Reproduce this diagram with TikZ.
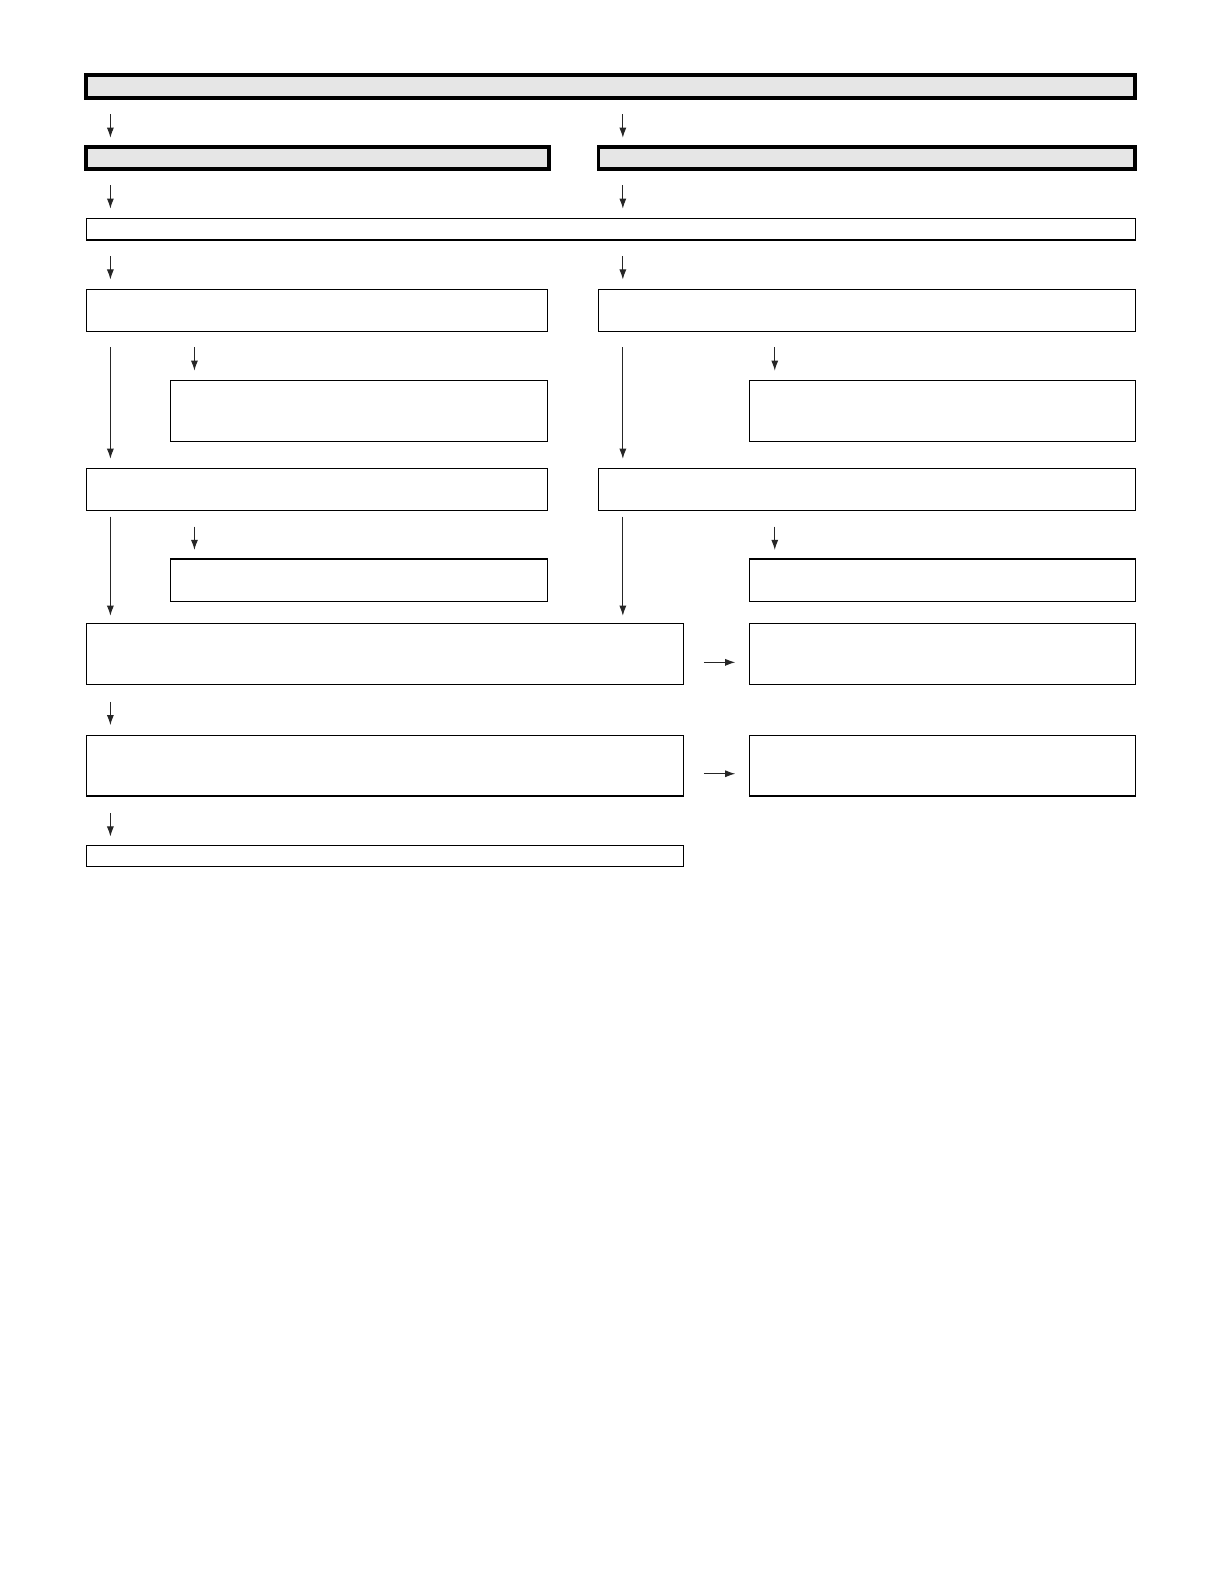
\documentclass[tikz,border=0pt]{standalone}
\usetikzlibrary{arrows.meta}
\begin{document}
\begin{tikzpicture}[x=1pt,y=-1pt,
  thinbox/.style={draw=black,line width=1.1pt,inner sep=0pt,outer sep=0pt,fill=white},
  thickbox/.style={draw=black,line width=3.8pt,inner sep=0pt,outer sep=0pt,fill=boxgrey},
  arr/.style={draw=black!85,line width=1pt,-{Latex[length=10pt,width=7pt]}}]
\definecolor{boxgrey}{HTML}{E6E6E6}
\useasboundingbox (0,0) rectangle (1204.6,1568);
\fill[white] (0,0) rectangle (1204.6,1568);
\node[thickbox,minimum width=1036pt,minimum height=23pt] (top) at (603,85.5) {};
\node[thickbox,minimum width=457pt,minimum height=22pt] (l1) at (313.5,156) {};
\node[thickbox,minimum width=530pt,minimum height=22pt] (r1) at (856,156) {};
\node[thinbox,minimum width=1036pt,minimum height=21pt] (wide) at (603,226.5) {};
\node[thinbox,minimum width=456pt,minimum height=41pt] (l2) at (313,306.5) {};
\node[thinbox,minimum width=530pt,minimum height=41pt] (r2) at (856,306.5) {};
\node[thinbox,minimum width=373pt,minimum height=60pt] (l2s) at (354.5,406) {};
\node[thinbox,minimum width=381pt,minimum height=60pt] (r2s) at (930.5,406) {};
\node[thinbox,minimum width=456pt,minimum height=41pt] (l3) at (313,483.5) {};
\node[thinbox,minimum width=530pt,minimum height=41pt] (r3) at (856,483.5) {};
\node[thinbox,minimum width=373pt,minimum height=42pt] (l3s) at (354.5,573) {};
\node[thinbox,minimum width=381pt,minimum height=42pt] (r3s) at (930.5,573) {};
\node[thinbox,minimum width=590pt,minimum height=60pt] (l4) at (380,646) {};
\node[thinbox,minimum width=381pt,minimum height=60pt] (r4) at (930.5,646) {};
\node[thinbox,minimum width=590pt,minimum height=60pt] (l5) at (380,756) {};
\node[thinbox,minimum width=381pt,minimum height=60pt] (r5) at (930.5,756) {};
\node[thinbox,minimum width=590pt,minimum height=21pt] (l6) at (380,845.5) {};
% arrow end points
\coordinate (a1s) at (109,113); \coordinate (a1e) at (109,136);
\coordinate (a2s) at (615,113); \coordinate (a2e) at (615,136);
\coordinate (a3s) at (109,183); \coordinate (a3e) at (109,206);
\coordinate (a4s) at (615,183); \coordinate (a4e) at (615,206);
\coordinate (a5s) at (109,253); \coordinate (a5e) at (109,276);
\coordinate (a6s) at (615,253); \coordinate (a6e) at (615,276);
\coordinate (a7s) at (109,343); \coordinate (a7e) at (109,453);
\coordinate (a8s) at (192,343); \coordinate (a8e) at (192,366);
\coordinate (a9s) at (615,343); \coordinate (a9e) at (615,453);
\coordinate (a10s) at (765,343); \coordinate (a10e) at (765,366);
\coordinate (a11s) at (109,510); \coordinate (a11e) at (109,608);
\coordinate (a12s) at (192,520); \coordinate (a12e) at (192,543);
\coordinate (a13s) at (615,510); \coordinate (a13e) at (615,608);
\coordinate (a14s) at (765,520); \coordinate (a14e) at (765,543);
\coordinate (h1s) at (695,654); \coordinate (h1e) at (726,654);
\coordinate (h2s) at (695,764); \coordinate (h2e) at (726,764);
\coordinate (a15s) at (109,693); \coordinate (a15e) at (109,716);
\coordinate (a16s) at (109,803); \coordinate (a16e) at (109,826);
\foreach \n in {a1,a2,a3,a4,a5,a6,a7,a8,a9,a10,a11,a12,a13,a14,a15,a16,h1,h2}
  \draw[arr] (\n s) -- (\n e);
\end{tikzpicture}
\end{document}
